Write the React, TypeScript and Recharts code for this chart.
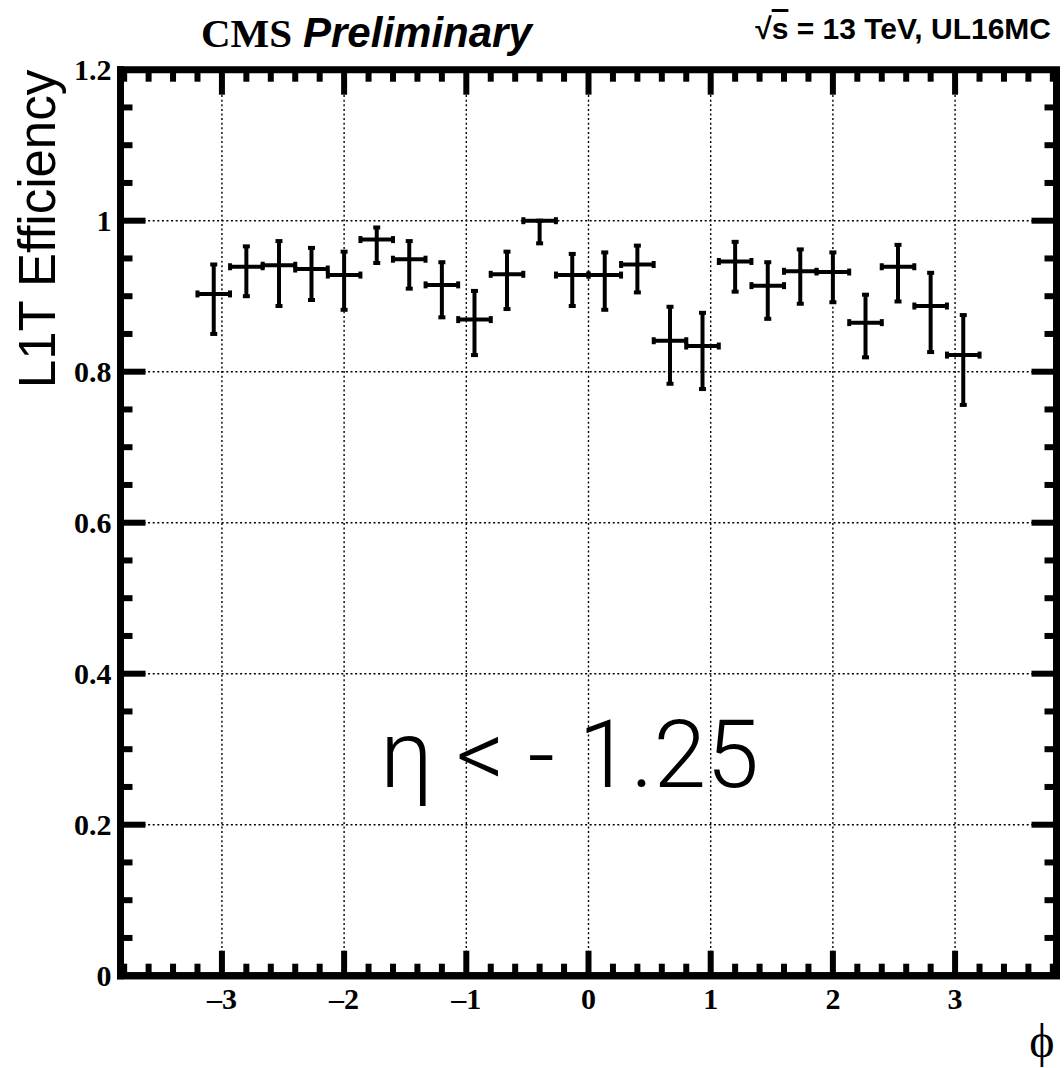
import { ComposedChart, Scatter, XAxis, YAxis, ErrorBar, ReferenceLine, ReferenceArea } from "recharts";

// bin centres in phi (24 bins from -3.2 to 3.2)
const phiCenters = [
  -3.067, -2.8, -2.533, -2.267, -2.0, -1.733, -1.467, -1.2, -0.933, -0.667, -0.4, -0.133,
  0.133, 0.4, 0.667, 0.933, 1.2, 1.467, 1.733, 2.0, 2.267, 2.533, 2.8, 3.067,
];
const binHalfWidth = 0.1333;

const efficiency = [
  0.903, 0.939, 0.941, 0.936, 0.928, 0.975, 0.949, 0.915, 0.869, 0.929, 1.0, 0.928,
  0.928, 0.942, 0.841, 0.834, 0.946, 0.914, 0.933, 0.932, 0.865, 0.939, 0.887, 0.822,
];
const effLow = [
  0.85, 0.9, 0.887, 0.895, 0.882, 0.944, 0.91, 0.872, 0.822, 0.883, 0.97, 0.887,
  0.882, 0.905, 0.784, 0.777, 0.906, 0.87, 0.89, 0.892, 0.819, 0.893, 0.826, 0.756,
];
const effHigh = [
  0.942, 0.966, 0.973, 0.964, 0.959, 0.991, 0.973, 0.945, 0.907, 0.959, 1.0, 0.956,
  0.958, 0.967, 0.886, 0.878, 0.972, 0.945, 0.962, 0.958, 0.902, 0.968, 0.931, 0.875,
];

const xMajorTicks = [-3, -2, -1, 0, 1, 2, 3];
const yMajorTicks = [0, 0.2, 0.4, 0.6, 0.8, 1, 1.2];
const yGridLines = [0.2, 0.4, 0.6, 0.8, 1];

const xDomain = [-3.83, 3.83];
const yDomain = [0, 1.2];

const xAllTicks = Array.from({ length: 39 }, (_, i) => Math.round((-3.8 + i * 0.2) * 10) / 10);
const yAllTicks = Array.from({ length: 25 }, (_, i) => Math.round(i * 0.05 * 100) / 100);

const data = phiCenters.map((phi, i) => ({
  phi,
  eff: efficiency[i],
  xErr: binHalfWidth,
  yErr: [efficiency[i] - effLow[i], effHigh[i] - efficiency[i]],
}));

// layout
const W = 1064;
const H = 1068;
const LEFT = 120.5;
const RIGHT = 7.5;
const TOP = 69.7;
const BOTTOM = 92.3;
const PLOT_W = W - LEFT - RIGHT;
const PLOT_H = H - TOP - BOTTOM;

const isMajor = (v: number, list: number[]) => list.some((m) => Math.abs(m - v) < 1e-6);
const fmtX = (v: number) => (v < 0 ? "\u2013" + Math.abs(v) : String(v));

const labelFont = { fontFamily: "'Liberation Serif', 'DejaVu Serif', serif", fontWeight: 700 };
const TICK_W = 6;
const MAJOR_LEN = 25;
const MINOR_LEN = 12;

// ticks drawn inward on bottom and top edges, labels only under the bottom edge
const BottomTick = (props: any) => {
  const { x, y, payload } = props;
  const major = isMajor(payload.value, xMajorTicks);
  const len = major ? MAJOR_LEN : MINOR_LEN;
  const yTop = y - PLOT_H;
  return (
    <g>
      <line x1={x} x2={x} y1={y} y2={y - len} stroke="#000" strokeWidth={TICK_W} />
      <line x1={x} x2={x} y1={yTop} y2={yTop + len} stroke="#000" strokeWidth={TICK_W} />
      {major && (
        <text x={x} y={y + 33} textAnchor="middle" fontSize={30} fill="#000" {...labelFont}>
          {fmtX(payload.value)}
        </text>
      )}
    </g>
  );
};

// ticks drawn inward on left and right edges, labels left of the frame
const LeftTick = (props: any) => {
  const { x, y, payload } = props;
  const major = isMajor(payload.value, yMajorTicks);
  const len = major ? MAJOR_LEN : MINOR_LEN;
  const xRight = x + PLOT_W;
  const edge = payload.value === 0 || payload.value === 1.2;
  return (
    <g>
      {!edge && <line x1={x} x2={x + len} y1={y} y2={y} stroke="#000" strokeWidth={TICK_W} />}
      {!edge && <line x1={xRight} x2={xRight - len} y1={y} y2={y} stroke="#000" strokeWidth={TICK_W} />}
      {major && (
        <text x={x - 9} y={y} dy="0.33em" textAnchor="end" fontSize={30} fill="#000" {...labelFont}>
          {String(payload.value)}
        </text>
      )}
    </g>
  );
};

const frame = { stroke: "#000", strokeWidth: 7, strokeLinecap: "square" as const };

const App = () => {
  return (
    <div style={{ position: "absolute", left: 0, top: 0, width: W, height: H, background: "#fff" }}>
      <ComposedChart width={W} height={H} data={data} margin={{ top: TOP, right: RIGHT, bottom: 0, left: 0 }}>
        <XAxis
          xAxisId="b"
          orientation="bottom"
          type="number"
          dataKey="phi"
          domain={xDomain}
          allowDataOverflow
          ticks={xAllTicks}
          interval={0}
          height={BOTTOM}
          tickSize={0}
          tickMargin={0}
          tickLine={false}
          axisLine={frame}
          tick={<BottomTick />}
        />
        <YAxis
          yAxisId="l"
          orientation="left"
          type="number"
          domain={yDomain}
          allowDataOverflow
          ticks={yAllTicks}
          interval={0}
          width={LEFT}
          tickSize={0}
          tickMargin={0}
          tickLine={false}
          axisLine={frame}
          tick={<LeftTick />}
        />
        <ReferenceArea
          x1={xDomain[0]}
          x2={xDomain[1]}
          y1={yDomain[0]}
          y2={yDomain[1]}
          xAxisId="b"
          yAxisId="l"
          fill="none"
          fillOpacity={0}
          stroke="#000"
          strokeWidth={7}
          ifOverflow="visible"
        />
        {xMajorTicks.map((v) => (
          <ReferenceLine
            key={`gx${v}`}
            x={v}
            xAxisId="b"
            yAxisId="l"
            stroke="#000"
            strokeWidth={1.4}
            strokeDasharray="2 2.6"
          />
        ))}
        {yGridLines.map((v) => (
          <ReferenceLine
            key={`gy${v}`}
            y={v}
            xAxisId="b"
            yAxisId="l"
            stroke="#000"
            strokeWidth={1.4}
            strokeDasharray="2 2.6"
          />
        ))}
        <Scatter
          xAxisId="b"
          yAxisId="l"
          dataKey="eff"
          isAnimationActive={false}
          shape={() => <g />}
        >
          <ErrorBar dataKey="xErr" direction="x" width={3.5} stroke="#000" strokeWidth={4} isAnimationActive={false} />
          <ErrorBar dataKey="yErr" direction="y" width={3.5} stroke="#000" strokeWidth={4} isAnimationActive={false} />
        </Scatter>
      </ComposedChart>
      <svg width={W} height={H} style={{ position: "absolute", left: 0, top: 0, pointerEvents: "none" }}>
        <text x={201} y={47} fontSize={41} fill="#000" {...labelFont}>
          CMS
        </text>
        <text
          x={303}
          y={47}
          fontSize={42}
          fontWeight={700}
          fontStyle="italic"
          fontFamily="'Liberation Sans', Arial, sans-serif"
          fill="#000"
        >
          Preliminary
        </text>
        <text
          x={1051}
          y={39}
          textAnchor="end"
          fontSize={30}
          fontWeight={700}
          fontFamily="'Liberation Sans', Arial, sans-serif"
          fill="#000"
        >
          √<tspan style={{ textDecoration: "overline" }}>s</tspan> = 13 TeV, UL16MC
        </text>
        <text
          transform="translate(55, 229) rotate(-90)"
          textAnchor="middle"
          fontSize={51}
          fontFamily="'Liberation Sans', Arial, sans-serif"
          fill="#000"
        >
          L1T Efficiency
        </text>
        <text
          x={380}
          y={787}
          fontSize={95}
          fontWeight={300}
          fontFamily="Roboto, 'Liberation Sans', sans-serif"
          fill="#000"
        >
          η &lt; - 1.25
        </text>
        <text
          x={1042}
          y={1057}
          textAnchor="middle"
          fontSize={48}
          fontFamily="'Liberation Serif', 'DejaVu Serif', serif"
          fill="#000"
        >
          ϕ
        </text>
      </svg>
    </div>
  );
};

export default App;
